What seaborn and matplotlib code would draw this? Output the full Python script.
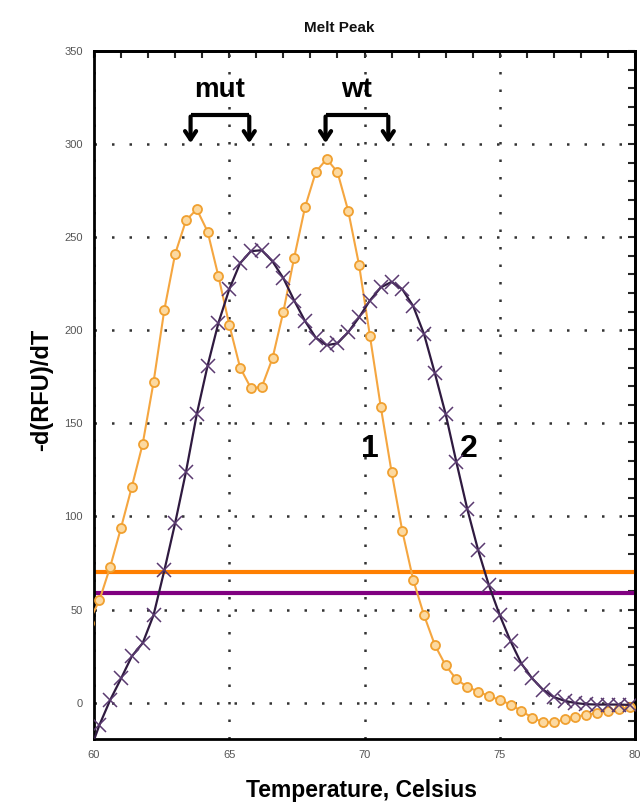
import numpy as np
import pandas as pd
import seaborn as sns
import matplotlib
matplotlib.use("Agg")
import matplotlib.pyplot as plt
from matplotlib.ticker import MultipleLocator

# melt peak data
temps = [59.8, 60.2, 60.6, 61.0, 61.4, 61.8, 62.2, 62.6, 63.0, 63.4,
         63.8, 64.2, 64.6, 65.0, 65.4, 65.8, 66.2, 66.6, 67.0, 67.4,
         67.8, 68.2, 68.6, 69.0, 69.4, 69.8, 70.2, 70.6, 71.0, 71.4,
         71.8, 72.2, 72.6, 73.0, 73.4, 73.8, 74.2, 74.6, 75.0, 75.4,
         75.8, 76.2, 76.6, 77.0, 77.4, 77.8, 78.2, 78.6, 79.0, 79.4, 79.8]

sample1 = [43, 55, 73, 94, 116, 139, 172, 211, 241, 259,
           265, 253, 229, 203, 180, 169, 169.5, 185, 210, 239,
           266, 285, 292, 285, 264, 235, 197, 159, 124, 92,
           66, 47, 31, 20, 12.5, 8.5, 6, 3.5, 1.5, -1,
           -4.5, -8, -10.5, -10.5, -9, -7.5, -6.5, -5.5, -4.5, -3.5, -2.5]

sample2 = [-28, -12, 1.5, 13, 25, 32, 47, 71, 96.5, 124,
           155, 181, 204, 222, 236, 242.5, 243, 237, 228, 216,
           205, 196, 192, 193, 199, 207, 216, 223, 226, 222,
           213, 198, 177, 155, 129, 104, 82, 63, 47, 33,
           21, 13, 7, 3, 1, -0.2, -0.8, -1, -1, -1, -1.2]

threshold1 = 70
threshold2 = 59

curve_labels = ["1", "2"]
curve_label_x = [70.2, 73.85]
curve_label_y = [136, 136]

yticks = [0, 50, 100, 150, 200, 250, 300, 350]
xticks = [60, 65, 70, 75, 80]

sns.set_style("white")
plt.rcParams['font.family'] = ['Liberation Sans', 'DejaVu Sans']

fig = plt.figure(figsize=(6.43, 8.07), dpi=100)
ax = fig.add_axes([94/643, 1-739/807, (635-94)/643, (739-51)/807])

df = pd.DataFrame({"T": temps, "s1": sample1, "s2": sample2})

ax.axhline(threshold1, color="#ff7f00", lw=3, zorder=2)
ax.axhline(threshold2, color="#800080", lw=3, zorder=2)

sns.lineplot(data=df, x="T", y="s1", ax=ax, color="#f5a640", lw=1.5,
             marker="o", markersize=6.5, markerfacecolor="#fcd9a0",
             markeredgecolor="#f0a030", markeredgewidth=1.3, zorder=3)
sns.lineplot(data=df, x="T", y="s2", ax=ax, color="#2f1a40", lw=1.6,
             marker="x", markersize=9.5, markeredgecolor="#5a3a70",
             markeredgewidth=1.1, zorder=4)

ax.set_xlim(60, 80)
ax.set_ylim(-19.5, 350)
ax.set_xticks(xticks)
ax.set_yticks(yticks)
ax.xaxis.set_minor_locator(MultipleLocator(1))
ax.yaxis.set_minor_locator(MultipleLocator(10))
ax.grid(True, which="major", color="#333333", linestyle=(0, (1, 6)), lw=1.8)
ax.set_xlabel("")
ax.set_ylabel("")

for s in ax.spines.values():
    s.set_color("black")
    s.set_linewidth(2)
ax.tick_params(axis="both", which="both", direction="inout", color="black",
               labelsize=8, labelcolor="#555555")
ax.tick_params(which="major", length=9, width=2)
ax.tick_params(which="minor", length=6, width=1.5)

# top and right ticks point inward only
sx = ax.secondary_xaxis("top")
sx.set_xticks(range(60, 81))
sx.tick_params(direction="in", length=5, width=1.5, labeltop=False)
sy = ax.secondary_yaxis("right")
sy.set_yticks(range(-10, 351, 10))
sy.tick_params(direction="in", length=5, width=1.5, labelright=False)
for sec in (sx, sy):
    for s in sec.spines.values():
        s.set_linewidth(2)
        s.set_color("black")

# bracket annotations
for x0, x1, txt in [(63.57, 65.74, "mut"), (68.56, 70.88, "wt")]:
    ax.plot([x0, x1], [315.5, 315.5], color="black", lw=3, solid_capstyle="butt")
    for xx in (x0, x1):
        ax.annotate("", xy=(xx, 299), xytext=(xx, 316.3),
                    arrowprops=dict(arrowstyle="->,head_length=0.6,head_width=0.4",
                                    color="black", lw=3))
    ax.text((x0 + x1) / 2, 329, txt, ha="center", va="center",
            fontsize=20, fontweight="bold", color="black")

for lab, lx, ly in zip(curve_labels, curve_label_x, curve_label_y):
    ax.text(lx, ly, lab, ha="center", va="center", fontsize=23,
            fontweight="bold", color="black")

fig.text(339/643, 1-28/807, "Melt Peak", ha="center", va="center",
         fontsize=11, fontweight="bold", color="#111111")
fig.text(42/643, 1-390/807, "-d(RFU)/dT", ha="center", va="center",
         rotation=90, fontsize=17, fontweight="bold", color="black")
fig.text(362/643, 1-791/807, "Temperature, Celsius", ha="center", va="center",
         fontsize=16.5, fontweight="bold", color="black")

fig.savefig("out.png", dpi=100)
